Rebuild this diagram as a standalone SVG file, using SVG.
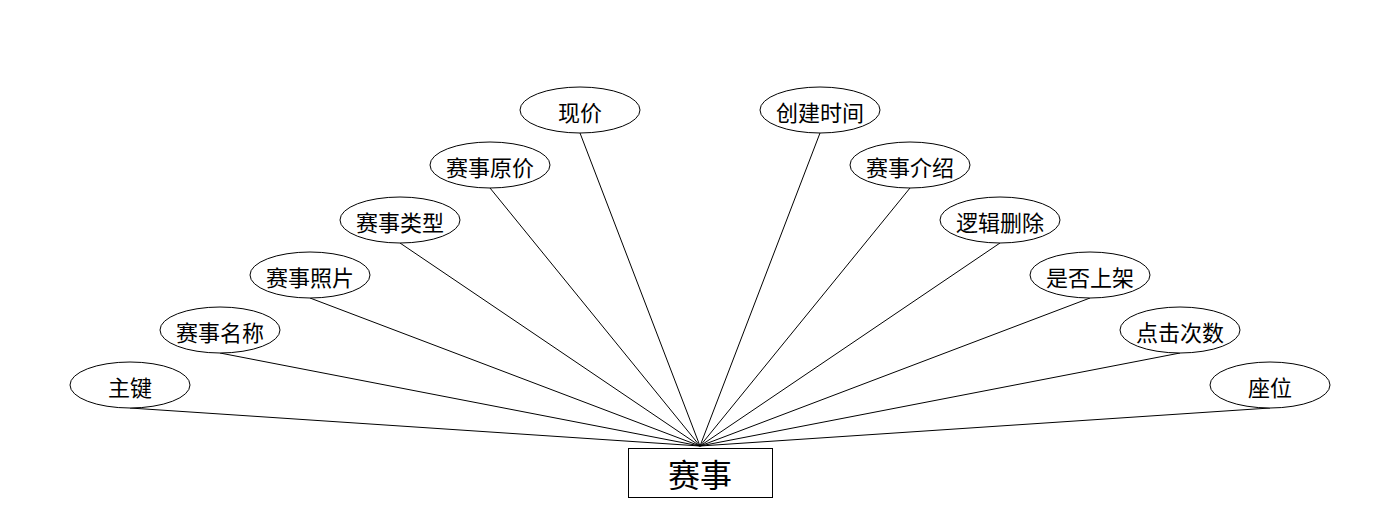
<svg xmlns="http://www.w3.org/2000/svg" width="1400" height="528" viewBox="0 0 1400 528">
<style>
.e{fill:#fff;stroke:#000;stroke-width:1}
.t{font-family:"Noto Sans CJK SC","Liberation Sans",sans-serif;font-size:22px;text-anchor:middle;dominant-baseline:central;fill:#000}
.c line{stroke:#000;stroke-width:1}
</style>
<rect width="1400" height="528" fill="#fff"/>
<g class="c" id="connectors">
<line x1="130" y1="408" x2="700" y2="446"/>
<line x1="220" y1="353" x2="700" y2="446"/>
<line x1="310" y1="298" x2="700" y2="446"/>
<line x1="400" y1="243" x2="700" y2="446"/>
<line x1="490" y1="188" x2="700" y2="446"/>
<line x1="580" y1="133" x2="700" y2="446"/>
<line x1="820" y1="133" x2="700" y2="446"/>
<line x1="910" y1="188" x2="700" y2="446"/>
<line x1="1000" y1="243" x2="700" y2="446"/>
<line x1="1090" y1="298" x2="700" y2="446"/>
<line x1="1180" y1="353" x2="700" y2="446"/>
<line x1="1270" y1="408" x2="700" y2="446"/>
</g>
<g id="entity"><rect x="628.5" y="448.5" width="144" height="49" fill="#fff" stroke="#000"/><text class="t" x="700" y="473" style="font-size:32px">赛事</text></g>
<g id="n1"><ellipse class="e" cx="130" cy="385" rx="60" ry="23"/><text class="t" x="130" y="386">主键</text></g>
<g id="n2"><ellipse class="e" cx="220" cy="330" rx="60" ry="23"/><text class="t" x="220" y="331">赛事名称</text></g>
<g id="n3"><ellipse class="e" cx="310" cy="275" rx="60" ry="23"/><text class="t" x="310" y="276">赛事照片</text></g>
<g id="n4"><ellipse class="e" cx="400" cy="220" rx="60" ry="23"/><text class="t" x="400" y="221">赛事类型</text></g>
<g id="n5"><ellipse class="e" cx="490" cy="165" rx="60" ry="23"/><text class="t" x="490" y="166">赛事原价</text></g>
<g id="n6"><ellipse class="e" cx="580" cy="110" rx="60" ry="23"/><text class="t" x="580" y="111">现价</text></g>
<g id="n7"><ellipse class="e" cx="820" cy="110" rx="60" ry="23"/><text class="t" x="820" y="111">创建时间</text></g>
<g id="n8"><ellipse class="e" cx="910" cy="165" rx="60" ry="23"/><text class="t" x="910" y="166">赛事介绍</text></g>
<g id="n9"><ellipse class="e" cx="1000" cy="220" rx="60" ry="23"/><text class="t" x="1000" y="221">逻辑删除</text></g>
<g id="n10"><ellipse class="e" cx="1090" cy="275" rx="60" ry="23"/><text class="t" x="1090" y="276">是否上架</text></g>
<g id="n11"><ellipse class="e" cx="1180" cy="330" rx="60" ry="23"/><text class="t" x="1180" y="331">点击次数</text></g>
<g id="n12"><ellipse class="e" cx="1270" cy="385" rx="60" ry="23"/><text class="t" x="1270" y="386">座位</text></g>
</svg>
